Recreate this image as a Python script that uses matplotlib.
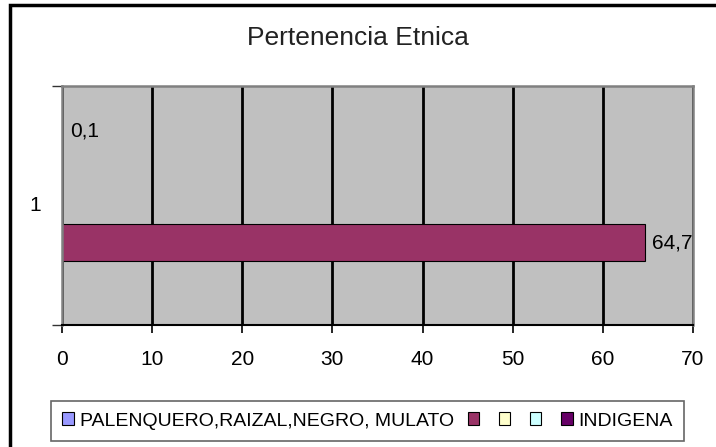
import numpy as np
import matplotlib
matplotlib.use("Agg")
import matplotlib.pyplot as plt
from matplotlib.patches import Rectangle, Patch

plt.rcParams['font.family'] = ['Liberation Sans', 'DejaVu Sans']

title = "Pertenencia Etnica"
categories = ["1"]
series_names = ["PALENQUERO,RAIZAL,NEGRO, MULATO", "", "", "", "INDIGENA"]
series_values = [np.nan, 64.7, np.nan, np.nan, 0.1]
series_colors = ["#9999FF", "#993366", "#FFFFCC", "#CCFFFF", "#660066"]
x_ticks = [0, 10, 20, 30, 40, 50, 60, 70]

fig = plt.figure(figsize=(7.16, 4.47), dpi=100)
ax = fig.add_axes([62/716, 1-325/447, (693-62)/716, (325-86)/447])
ax.set_facecolor("#C0C0C0")

n = len(series_names)
bar_h = 0.155
offsets = (np.arange(n) - (n - 1) / 2) * bar_h
handles = []
for i, (name, val, col) in enumerate(zip(series_names, series_values, series_colors)):
    y = 0 + offsets[i]
    handles.append(Patch(facecolor=col, edgecolor="#000000", linewidth=0.8))
    if np.isnan(val):
        continue
    ax.barh([y], [val], height=bar_h, color=col,
            edgecolor="#000000", linewidth=0.8 if val > 1 else 0, zorder=2)
    ax.annotate(f"{val:.1f}".replace(".", ","), xy=(val, y), xytext=(5, 0),
                textcoords="offset points", va="center", ha="left",
                fontsize=15, color="black", zorder=5)

ax.set_xlim(0, 70)
ax.set_ylim(-0.5, 0.5)
ax.set_xticks(x_ticks)
ax.set_xticklabels([str(t) for t in x_ticks], fontsize=15)
ax.tick_params(axis="x", direction="out", length=6, width=1.2, pad=12, colors="black")
ax.set_yticks([-0.5, 0.5])
ax.set_yticklabels(["", ""])
ax.tick_params(axis="y", direction="out", length=7, width=1, colors="#333333")
ax.text(-0.033, 0.5, categories[0], transform=ax.transAxes, ha="right", va="center", fontsize=15)

ax.grid(axis="x", color="black", linewidth=2, zorder=1)
for s in ["top", "right", "left"]:
    ax.spines[s].set_color("#808080")
    ax.spines[s].set_linewidth(1.8)
    ax.spines[s].set_zorder(4)
ax.spines["bottom"].set_color("black")
ax.spines["bottom"].set_linewidth(1.5)
ax.spines["bottom"].set_zorder(4)
ax.set_axisbelow(True)

fig.text(358/716, 1-38/447, title, ha="center", va="center", fontsize=19,
         color="#222222")

leg = fig.legend(handles, series_names, loc="center",
                 bbox_to_anchor=((43+692)/2/716, 1-421/447), ncol=5,
                 fontsize=14, frameon=True, fancybox=False, edgecolor="#404040",
                 handlelength=0.6, handleheight=0.6, handletextpad=0.3, columnspacing=0.7,
                 borderpad=0.6)
leg.get_frame().set_linewidth(1.2)

fig.patches.append(Rectangle((10/716, -0.2), 2.0, 1.2 - 5/447, transform=fig.transFigure,
                             fill=False, edgecolor="black", linewidth=2.5, clip_on=False))

fig.savefig("out.png", dpi=100)
